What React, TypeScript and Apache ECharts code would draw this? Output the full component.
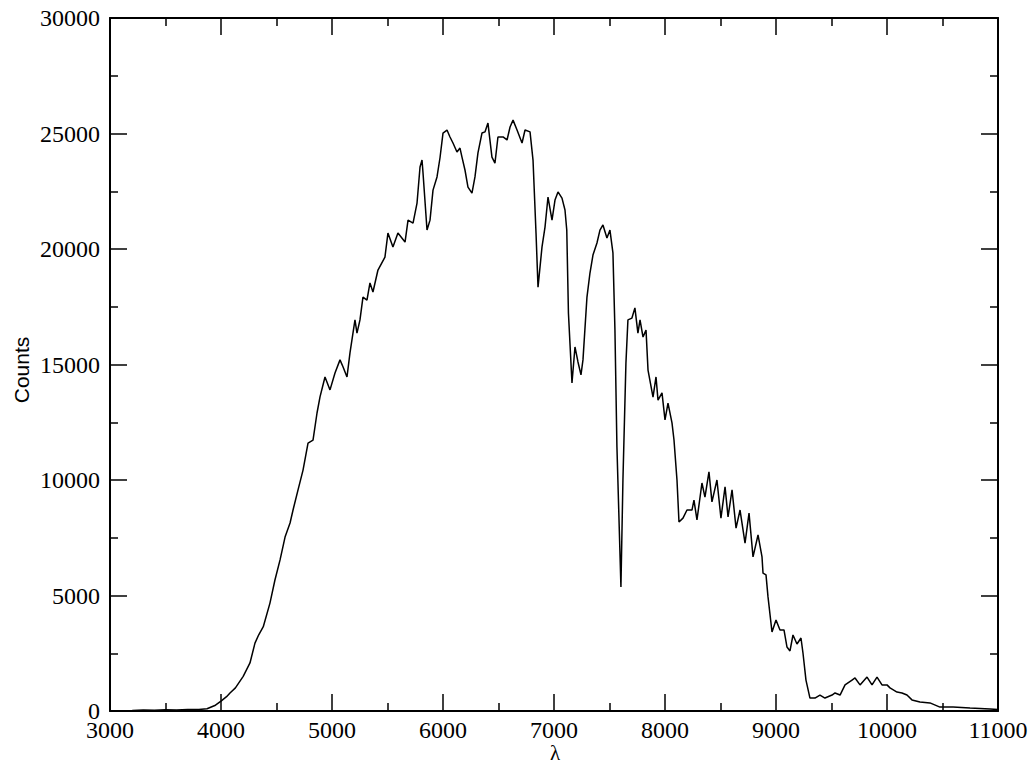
import React, { useEffect, useRef } from "react";
import * as echarts from "echarts";

const wavelengths = [
  3000, 3100, 3200, 3300, 3400, 3500, 3600, 3700, 3800, 3874, 3950, 4000, 4050, 4081, 4130, 4200,
  4261, 4306, 4340, 4381, 4441, 4486, 4532, 4577, 4622, 4649, 4694, 4739, 4784, 4829, 4865, 4892,
  4937, 4982, 5027, 5072, 5099, 5135, 5162, 5207, 5225, 5252, 5279, 5315, 5342, 5369, 5414, 5477,
  5504, 5549, 5594, 5658, 5685, 5730, 5766, 5793, 5811, 5820, 5856, 5883, 5910, 5946, 5973, 6000,
  6036, 6063, 6090, 6126, 6153, 6171, 6198, 6225, 6261, 6288, 6315, 6351, 6378, 6405, 6441, 6468,
  6495, 6541, 6577, 6604, 6631, 6667, 6712, 6739, 6784, 6811, 6838, 6856, 6892, 6919, 6946, 6982,
  7009, 7036, 7072, 7099, 7115, 7130, 7162, 7189, 7216, 7243, 7261, 7297, 7324, 7351, 7387, 7414,
  7441, 7477, 7504, 7531, 7549, 7567, 7603, 7621, 7648, 7666, 7702, 7729, 7756, 7775, 7802, 7829,
  7847, 7892, 7919, 7937, 7973, 8000, 8027, 8063, 8081, 8108, 8126, 8162, 8198, 8243, 8261, 8288,
  8333, 8360, 8396, 8423, 8468, 8504, 8541, 8568, 8604, 8640, 8676, 8721, 8757, 8793, 8838, 8874,
  8883, 8910, 8928, 8964, 9000, 9036, 9072, 9099, 9126, 9153, 9189, 9225, 9243, 9270, 9306, 9351,
  9396, 9441, 9505, 9532, 9577, 9622, 9685, 9712, 9757, 9820, 9865, 9910, 9955, 10000, 10027, 10090,
  10135, 10180, 10225, 10297, 10387, 10477, 10595, 10748, 10928, 11000,
];

const counts = [
  0, 10, 20, 40, 30, 50, 40, 60, 70, 100, 250, 430, 620, 780, 1000, 1500,
  2080, 2940, 3300, 3650, 4670, 5670, 6540, 7530, 8140, 8700, 9570, 10430, 11600, 11730, 12900, 13600,
  14460, 13900, 14630, 15200, 14900, 14460, 15500, 16930, 16360, 16930, 17920, 17790, 18530, 18140, 19090, 19650,
  20690, 20090, 20690, 20300, 21250, 21120, 21990, 23550, 23850, 23290, 20820, 21250, 22550, 23120, 23950, 25020,
  25150, 24850, 24590, 24200, 24370, 23980, 23420, 22680, 22420, 23120, 24160, 25020, 25070, 25450, 23980, 23720,
  24850, 24850, 24720, 25280, 25580, 25150, 24590, 25150, 25070, 23850, 20690, 18350, 20090, 20950, 22250, 21250,
  22120, 22470, 22200, 21690, 20820, 17230, 14200, 15760, 15110, 14550, 15200, 17920, 18960, 19740, 20260, 20820,
  21040, 20480, 20820, 19830, 16490, 11430, 5370, 10000, 15060, 16930, 17010, 17450, 16360, 16930, 16190, 16490,
  14760, 13590, 14460, 13460, 13770, 12600, 13330, 12470, 11730, 10000, 8180, 8350, 8700, 8700, 9130, 8270,
  9870, 9260, 10350, 9050, 10000, 8350, 9700, 8400, 9570, 7920, 8700, 7270, 8570, 6670, 7620, 6670,
  5970, 5890, 4940, 3420, 3940, 3510, 3510, 2770, 2600, 3290, 2900, 3160, 2510, 1340, 560, 560,
  690, 560, 690, 780, 690, 1130, 1340, 1430, 1130, 1470, 1130, 1470, 1130, 1130, 1000, 820,
  780, 690, 480, 390, 350, 170, 170, 130, 90, 60,
];

const xTicks = { min: 3000, max: 11000, step: 1000 };
const yTicks = { min: 0, max: 30000, step: 5000 };

const serif = "'Liberation Serif', 'Times New Roman', serif";
const sans = "'Liberation Sans', Arial, sans-serif";

export default function App() {
  const ref = useRef<HTMLDivElement>(null);
  useEffect(() => {
    if (!ref.current) return;
    const chart = echarts.init(ref.current, undefined, { renderer: "svg" });
    const axisLine = { show: true, onZero: false, lineStyle: { color: "#000", width: 2 } };
    const axisTick = { show: true, inside: true, length: 17, lineStyle: { color: "#000", width: 1.5 } };
    const minorTick = { show: true, splitNumber: 2, length: 8, lineStyle: { color: "#000", width: 1.5 } };
    const label = {
      color: "#000",
      fontFamily: serif,
      fontSize: 24,
      formatter: (v: number) => String(v),
    };
    const grid = { left: 110, right: 34, top: 18, bottom: 55 };
    const xBase = {
      type: "value" as const,
      min: xTicks.min,
      max: xTicks.max,
      interval: xTicks.step,
      axisLine,
      axisTick,
      minorTick,
      splitLine: { show: false },
    };
    const yBase = {
      type: "value" as const,
      min: yTicks.min,
      max: yTicks.max,
      interval: yTicks.step,
      axisLine,
      axisTick,
      minorTick,
      splitLine: { show: false },
    };
    chart.setOption({
      animation: false,
      backgroundColor: "#fff",
      grid,
      xAxis: [
        { ...xBase, position: "bottom", axisLabel: { ...label, margin: 7 } },
        { ...xBase, position: "top", axisLabel: { show: false } },
      ],
      yAxis: [
        { ...yBase, position: "left", axisLabel: { ...label, margin: 10 } },
        { ...yBase, position: "right", axisLabel: { show: false } },
      ],
      graphic: [
        {
          type: "text",
          x: 21,
          y: 370,
          rotation: Math.PI / 2,
          style: {
            text: "Counts",
            fontFamily: sans,
            fontSize: 21,
            fill: "#000",
            textAlign: "center",
            textVerticalAlign: "middle",
          },
        },
        {
          type: "text",
          x: 555,
          y: 753,
          style: {
            text: "λ",
            fontFamily: serif,
            fontSize: 21,
            fill: "#000",
            textAlign: "center",
            textVerticalAlign: "middle",
          },
        },
      ],
      series: [
        {
          type: "line",
          xAxisIndex: 0,
          yAxisIndex: 0,
          data: wavelengths.map((w, i) => [w, counts[i]]),
          showSymbol: false,
          symbol: "none",
          lineStyle: { color: "#000", width: 1.5 },
          silent: true,
        },
      ],
    });
    return () => chart.dispose();
  }, []);
  return (
    <div
      ref={ref}
      style={{ position: "fixed", left: 0, top: 0, width: 1032, height: 766, background: "#fff" }}
    />
  );
}
